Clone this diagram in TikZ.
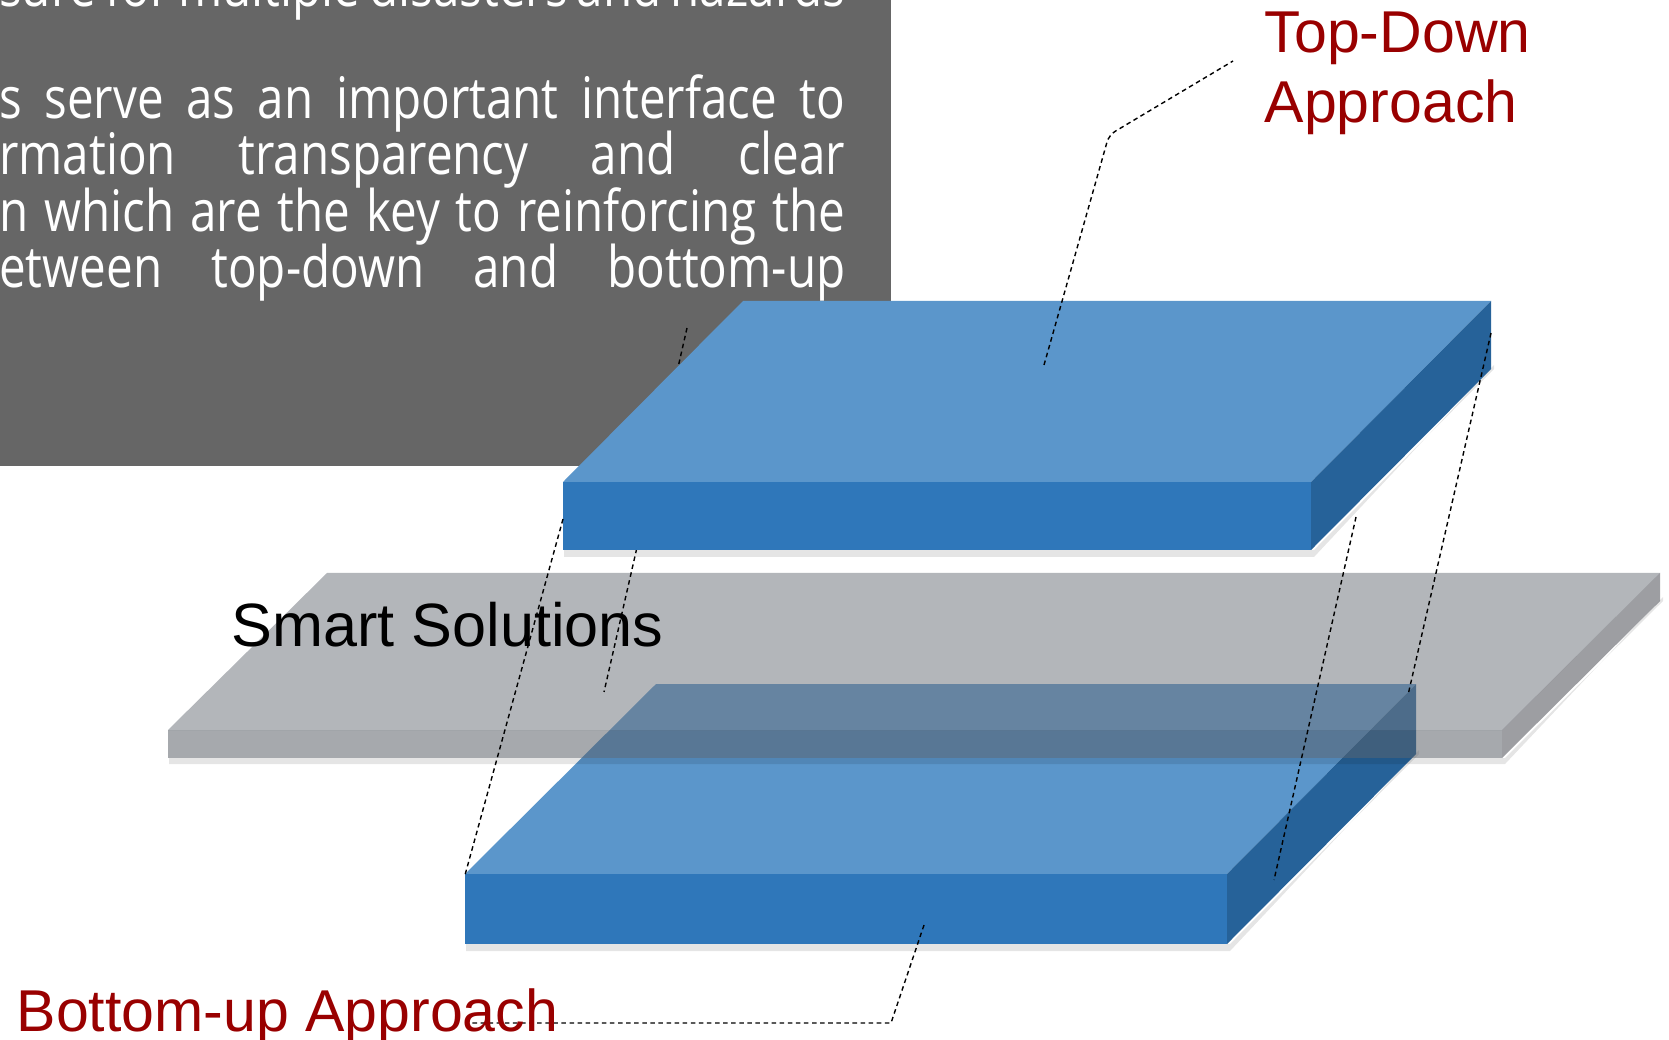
\documentclass[tikz,border=0pt]{standalone}
\usepackage{fontspec}
\setmainfont{Liberation Sans}
\newfontfamily\boxfont[FakeStretch=0.83]{Open Sans}
\usetikzlibrary{calc}

\definecolor{boxgray}{RGB}{102,102,102}
\definecolor{slabtop}{RGB}{91,150,203}
\definecolor{slabfront}{RGB}{47,119,186}
\definecolor{slabside}{RGB}{38,98,153}
\definecolor{smarttop}{RGB}{112,117,125}
\definecolor{smartfront}{RGB}{87,93,101}
\definecolor{smartside}{RGB}{70,72,80}
\definecolor{labelred}{RGB}{153,0,0}

\tikzset{
	guide/.style={black, line width=0.4pt, dash pattern=on 1.3pt off 1pt},
	redlabel/.style={labelred, anchor=base west, inner sep=0pt, font=\fontsize{16.8}{20}\selectfont},
	boxline/.style={white, anchor=base east, inner sep=0pt, font=\boxfont\fontsize{16.3}{16.3}\selectfont},
	shade/.style={black, opacity=0.10},
}

% slab: #1 back left, #2 back right, #3 front right, #4 front left, #5 thickness, #6 top, #7 front, #8 side
\def\slab(#1)(#2)(#3)(#4)(#5)[#6,#7,#8]{
	\fill[#6] (#1) -- (#2) -- (#3) -- (#4) -- cycle;
	\fill[#7] (#4) -- (#3) -- ($(#3)+(0,-#5)$) -- ($(#4)+(0,-#5)$) -- cycle;
	\fill[#8] (#3) -- (#2) -- ($(#2)+(0,-#5)$) -- ($(#3)+(0,-#5)$) -- cycle;
}

\begin{document}
\begin{tikzpicture}
			%%%%% START %%%%%
			\useasboundingbox (0,0) rectangle (16.69,-10.40);
			
			\fill[boxgray] (0,0) rectangle (8.91,-4.66);
			\node[boxline] (lineA) at (8.46,-0.07) {\makebox[8.46cm][s]{sure for multiple disasters and hazards}};
			\node[boxline] (lineB) at (8.46,-1.19) {\makebox[8.46cm][s]{s serve as an important interface to}};
			\node[boxline] (lineC) at (8.46,-1.75) {\makebox[8.46cm][s]{rmation transparency and clear}};
			\node[boxline] (lineD) at (8.46,-2.32) {\makebox[8.46cm][s]{n which are the key to reinforcing the}};
			\node[boxline] (lineE) at (8.46,-2.88) {\makebox[8.46cm][s]{etween top-down and bottom-up}};
			
			% corners
			\coordinate (tdBL) at (7.43,-3.01);
			\coordinate (tdBR) at (14.91,-3.01);
			\coordinate (tdFR) at (13.11,-4.82);
			\coordinate (tdFL) at (5.63,-4.82);
			
			\coordinate (ssBL) at (3.27,-5.73);
			\coordinate (ssBR) at (16.60,-5.73);
			\coordinate (ssFR) at (15.02,-7.30);
			\coordinate (ssFL) at (1.68,-7.30);
			
			\coordinate (buBL) at (6.56,-6.84);
			\coordinate (buBR) at (14.16,-6.84);
			\coordinate (buFR) at (12.27,-8.74);
			\coordinate (buFL) at (4.65,-8.74);
			
			% bottom-up slab
			\fill[shade] ($(buFL)+(0.01,-0.70)$) -- ($(buFR)+(0.03,-0.70)$) -- ($(buBR)+(0.03,-0.70)$) -- ($(buBR)+(0.03,-0.66)$) -- ($(buFR)+(0.03,-0.77)$) -- ($(buFL)+(0.01,-0.77)$) -- cycle;
			\slab(buBL)(buBR)(buFR)(buFL)(0.70)[slabtop,slabfront,slabside]
			
			% smart solutions slab
			\fill[shade] ($(ssFL)+(0.01,-0.28)$) -- ($(ssFR)+(0.03,-0.28)$) -- ($(ssBR)+(0.03,-0.28)$) -- ($(ssBR)+(0.03,-0.24)$) -- ($(ssFR)+(0.03,-0.34)$) -- ($(ssFL)+(0.01,-0.34)$) -- cycle;
			\begin{scope}[opacity=0.53]
				\slab(ssBL)(ssBR)(ssFR)(ssFL)(0.28)[smarttop,smartfront,smartside]
			\end{scope}
			\node[anchor=base west, inner sep=0pt, font=\fontsize{17.4}{20}\selectfont] (smart) at (2.31,-6.46) {Smart Solutions};
			
			% guides under the top slab
			\coordinate (gA1) at (6.87,-3.28);
			\coordinate (gA2) at (6.04,-6.92);
			\coordinate (gC1) at (13.56,-5.17);
			\coordinate (gC2) at (12.74,-8.80);
			\draw[guide] (gA1) -- (gA2);
			\draw[guide] (gC1) -- (gC2);
			
			% top-down slab
			\fill[shade] ($(tdFL)+(0.01,-0.68)$) -- ($(tdFR)+(0.03,-0.68)$) -- ($(tdBR)+(0.03,-0.68)$) -- ($(tdBR)+(0.03,-0.64)$) -- ($(tdFR)+(0.03,-0.75)$) -- ($(tdFL)+(0.01,-0.75)$) -- cycle;
			\slab(tdBL)(tdBR)(tdFR)(tdFL)(0.68)[slabtop,slabfront,slabside]
			
			% guides over the slabs
			\coordinate (gB1) at (5.63,-5.19);
			\coordinate (gB2) at (4.65,-8.75);
			\coordinate (gD1) at (14.91,-3.33);
			\coordinate (gD2) at (14.08,-6.95);
			\draw[guide] (gB1) -- (gB2);
			\draw[guide] (gD1) -- (gD2);
			
			% labels
			\coordinate (tdTip) at (10.44,-3.65);
			\coordinate (tdBend) at (11.09,-1.35);
			\coordinate (tdEnd) at (12.33,-0.61);
			\draw[guide, rounded corners=2pt] (tdTip) -- (tdBend) -- (tdEnd);
			\node[redlabel] (tdlabA) at (12.64,-0.53) {Top-Down};
			\node[redlabel] (tdlabB) at (12.64,-1.23) {Approach};
			
			\coordinate (buTip) at (9.24,-9.25);
			\coordinate (buBend) at (8.91,-10.23);
			\coordinate (buEnd) at (4.67,-10.23);
			\draw[guide] (buTip) -- (buBend) -- (buEnd);
			\node[redlabel] (bulab) at (0.16,-10.31) {Bottom-up Approach};
			
			%%%%% END %%%%%
\end{tikzpicture}
\end{document}
